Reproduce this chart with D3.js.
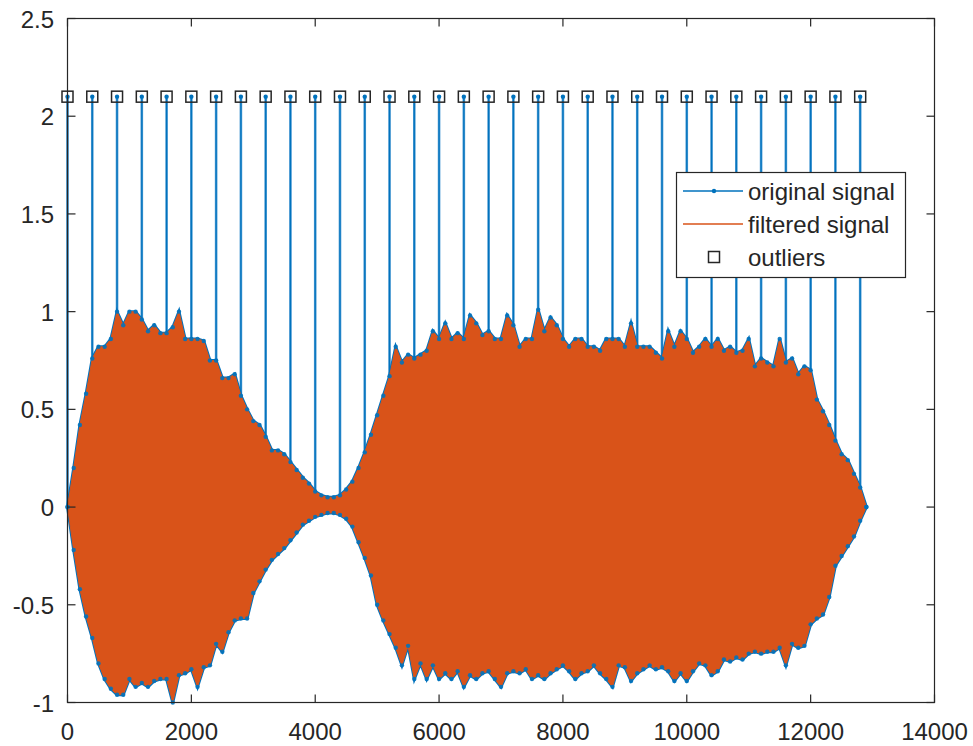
<!DOCTYPE html>
<html>
<head>
<meta charset="utf-8">
<script src="https://cdn.jsdelivr.net/npm/d3@7"></script>
<style>
  html, body { margin: 0; padding: 0; background: #ffffff; }
  svg { display: block; font-family: "Liberation Sans", Arial, Helvetica, sans-serif; }
</style>
</head>
<body>
<svg id="chart" width="973" height="746"></svg>
<script>
// ---- data ----
// sample index of each envelope reading (every 100 samples)
const sampleIdx = d3.range(0, 13000, 100);
// upper envelope (local maxima) of the original signal
const upperEnv = [
  0.00, 0.20, 0.42, 0.58, 0.76, 0.82, 0.82, 0.86, 1.00, 0.93,
  1.00, 1.00, 0.96, 0.90, 0.93, 0.89, 0.89, 0.92, 1.00, 0.86,
  0.86, 0.86, 0.85, 0.75, 0.75, 0.66, 0.66, 0.68, 0.57, 0.50,
  0.44, 0.42, 0.36, 0.29, 0.29, 0.27, 0.23, 0.19, 0.15, 0.12,
  0.08, 0.06, 0.05, 0.05, 0.06, 0.09, 0.13, 0.20, 0.28, 0.37,
  0.47, 0.57, 0.67, 0.82, 0.74, 0.78, 0.76, 0.78, 0.80, 0.90,
  0.86, 0.94, 0.86, 0.89, 0.86, 0.98, 0.94, 0.88, 0.90, 0.86,
  0.86, 0.98, 0.93, 0.82, 0.86, 0.86, 1.01, 0.90, 0.97, 0.93,
  0.86, 0.82, 0.86, 0.86, 0.82, 0.82, 0.80, 0.86, 0.86, 0.86,
  0.82, 0.94, 0.82, 0.82, 0.82, 0.79, 0.76, 0.90, 0.82, 0.90,
  0.86, 0.79, 0.82, 0.86, 0.82, 0.86, 0.80, 0.82, 0.79, 0.80,
  0.86, 0.72, 0.76, 0.74, 0.72, 0.86, 0.74, 0.76, 0.68, 0.72,
  0.70, 0.55, 0.49, 0.42, 0.34, 0.27, 0.24, 0.17, 0.10, 0.00
];
// lower envelope (local minima) of the original signal
const lowerEnv = [
   0.00, -0.22, -0.42, -0.56, -0.67, -0.80, -0.88, -0.93, -0.96, -0.96,
  -0.88, -0.92, -0.90, -0.92, -0.89, -0.88, -0.88, -1.00, -0.86, -0.85,
  -0.83, -0.92, -0.82, -0.81, -0.70, -0.74, -0.64, -0.58, -0.57, -0.57,
  -0.44, -0.38, -0.32, -0.27, -0.24, -0.21, -0.17, -0.13, -0.09, -0.07,
  -0.05, -0.04, -0.03, -0.03, -0.04, -0.06, -0.10, -0.18, -0.26, -0.35,
  -0.50, -0.58, -0.65, -0.72, -0.81, -0.71, -0.88, -0.80, -0.88, -0.81,
  -0.88, -0.85, -0.88, -0.84, -0.92, -0.86, -0.88, -0.85, -0.84, -0.88,
  -0.92, -0.85, -0.84, -0.85, -0.83, -0.88, -0.86, -0.88, -0.85, -0.83,
  -0.81, -0.84, -0.88, -0.85, -0.84, -0.81, -0.85, -0.88, -0.92, -0.81,
  -0.82, -0.89, -0.85, -0.83, -0.81, -0.83, -0.82, -0.84, -0.89, -0.85,
  -0.89, -0.84, -0.80, -0.81, -0.86, -0.84, -0.78, -0.79, -0.77, -0.78,
  -0.75, -0.74, -0.75, -0.74, -0.74, -0.72, -0.81, -0.70, -0.72, -0.71,
  -0.60, -0.57, -0.55, -0.46, -0.30, -0.25, -0.20, -0.15, -0.07, 0.00
];
// outlier positions (sample index) and their value
const outlierIdx = d3.range(0, 12801, 400);
const outlierValue = 2.1;

const xTicks = [0, 2000, 4000, 6000, 8000, 10000, 12000, 14000];
const yTicks = [-1, -0.5, 0, 0.5, 1, 1.5, 2, 2.5];
const legendLabels = ["original signal", "filtered signal", "outliers"];

// ---- layout ----
const C_BLUE = "#0072BD", C_ORANGE = "#D95319", C_AX = "#262626";
const plot = { left: 67.5, right: 934.5, top: 18.5, bottom: 702.5 };

const svg = d3.select("#chart");
const x = d3.scaleLinear().domain([0, 14000]).range([plot.left, plot.right]);
const y = d3.scaleLinear().domain([-1, 2.5]).range([plot.bottom, plot.top]);

const env = sampleIdx.map((s, i) => ({ s, hi: upperEnv[i], lo: lowerEnv[i] }));

const g = svg.append("g");

// outlier stems of the original signal (drawn beneath the filtered signal)
g.selectAll("line.stem").data(outlierIdx).join("line")
  .attr("x1", d => x(d)).attr("x2", d => x(d))
  .attr("y1", y(0)).attr("y2", y(outlierValue))
  .attr("stroke", "#4a9ad3").attr("stroke-width", 2.6);
g.selectAll("line.stemc").data(outlierIdx).join("line")
  .attr("x1", d => x(d)).attr("x2", d => x(d))
  .attr("y1", y(0)).attr("y2", y(outlierValue))
  .attr("stroke", C_BLUE).attr("stroke-width", 1.2);

// original signal envelope edges
const lineHi = d3.line().x(d => x(d.s)).y(d => y(d.hi));
const lineLo = d3.line().x(d => x(d.s)).y(d => y(d.lo));
g.append("path").attr("d", lineHi(env)).attr("fill", "none").attr("stroke", C_BLUE).attr("stroke-width", 3);
g.append("path").attr("d", lineLo(env)).attr("fill", "none").attr("stroke", C_BLUE).attr("stroke-width", 3);

// filtered signal (dense oscillation drawn as the band between its envelopes)
const area = d3.area().x(d => x(d.s)).y0(d => y(d.lo)).y1(d => y(d.hi));
g.append("path").attr("d", area(env)).attr("fill", C_ORANGE).attr("stroke", C_ORANGE).attr("stroke-width", 1);

// original signal markers at the extremes
const dots = env.flatMap(d => [{ s: d.s, v: d.hi }, { s: d.s, v: d.lo }]);
g.selectAll("circle.pt").data(dots).join("circle")
  .attr("cx", d => x(d.s)).attr("cy", d => y(d.v)).attr("r", 2.2)
  .attr("fill", C_BLUE).attr("opacity", 0.9);
g.selectAll("circle.out").data(outlierIdx).join("circle")
  .attr("cx", d => x(d)).attr("cy", y(outlierValue)).attr("r", 2.2)
  .attr("fill", C_BLUE);

// outlier squares
const sq = 11;
g.selectAll("rect.out").data(outlierIdx).join("rect")
  .attr("x", d => x(d) - sq / 2).attr("y", y(outlierValue) - sq / 2)
  .attr("width", sq).attr("height", sq)
  .attr("fill", "none").attr("stroke", C_AX).attr("stroke-width", 1.5);

// ---- axes (box with inward ticks) ----
const axG = svg.append("g").attr("stroke", C_AX).attr("stroke-width", 1.2);
axG.append("rect").attr("x", plot.left).attr("y", plot.top)
  .attr("width", plot.right - plot.left).attr("height", plot.bottom - plot.top)
  .attr("fill", "none");
const tl = 8;
xTicks.forEach(t => {
  axG.append("line").attr("x1", x(t)).attr("x2", x(t)).attr("y1", plot.bottom).attr("y2", plot.bottom - tl);
  axG.append("line").attr("x1", x(t)).attr("x2", x(t)).attr("y1", plot.top).attr("y2", plot.top + tl);
});
yTicks.forEach(t => {
  axG.append("line").attr("y1", y(t)).attr("y2", y(t)).attr("x1", plot.left).attr("x2", plot.left + tl);
  axG.append("line").attr("y1", y(t)).attr("y2", y(t)).attr("x1", plot.right).attr("x2", plot.right - tl);
});

const fontSize = 24;
svg.append("g").selectAll("text").data(xTicks).join("text")
  .attr("x", d => x(d)).attr("y", 740)
  .attr("text-anchor", "middle").attr("font-size", fontSize).attr("fill", C_AX)
  .text(d => String(d));
svg.append("g").selectAll("text").data(yTicks).join("text")
  .attr("x", 54).attr("y", d => y(d) + 9)
  .attr("text-anchor", "end").attr("font-size", fontSize).attr("fill", C_AX)
  .text(d => String(d));

// ---- legend ----
const lg = svg.append("g");
lg.append("rect").attr("x", 676.5).attr("y", 172.5).attr("width", 229).attr("height", 105)
  .attr("fill", "#ffffff").attr("stroke", C_AX).attr("stroke-width", 1.2);
const rowY = [191, 224, 257];
lg.append("line").attr("x1", 683).attr("x2", 743).attr("y1", rowY[0]).attr("y2", rowY[0])
  .attr("stroke", C_BLUE).attr("stroke-width", 1.5);
lg.append("circle").attr("cx", 714).attr("cy", rowY[0]).attr("r", 2.2).attr("fill", C_BLUE);
lg.append("line").attr("x1", 683).attr("x2", 743).attr("y1", rowY[1]).attr("y2", rowY[1])
  .attr("stroke", C_ORANGE).attr("stroke-width", 1.5);
lg.append("rect").attr("x", 714 - sq / 2).attr("y", rowY[2] - sq / 2).attr("width", sq).attr("height", sq)
  .attr("fill", "none").attr("stroke", C_AX).attr("stroke-width", 1.5);
lg.selectAll("text").data(legendLabels).join("text")
  .attr("x", 748).attr("y", (d, i) => rowY[i] + 9)
  .attr("font-size", fontSize).attr("fill", C_AX)
  .text(d => d);
</script>
</body>
</html>
